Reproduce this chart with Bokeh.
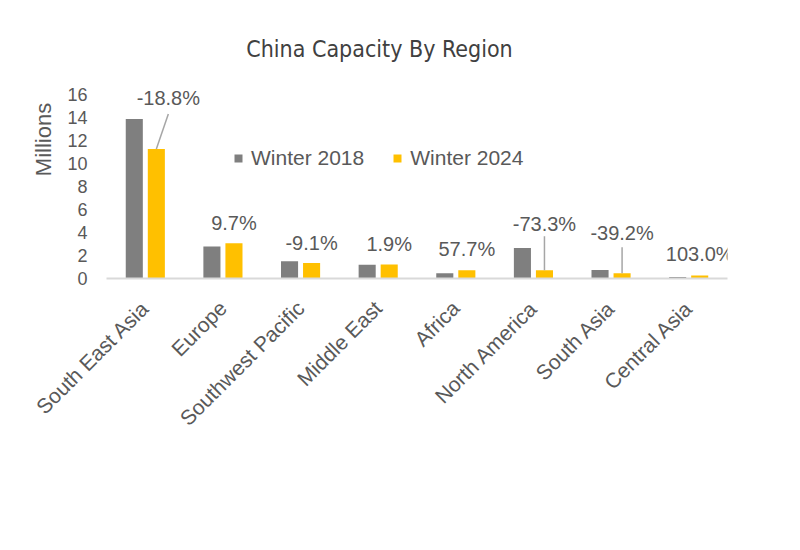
import math
from bokeh.plotting import figure
from bokeh.models import (ColumnDataSource, Range1d, FactorRange, FixedTicker, Legend,
                          LegendItem)
from bokeh.transform import dodge
from bokeh.core.properties import value
from bokeh.embed import file_html
from bokeh.resources import INLINE

# ---- data ----
regions = ["South East Asia", "Europe", "Southwest Pacific", "Middle East",
           "Africa", "North America", "South Asia", "Central Asia"]
winter_2018 = [13.9, 2.8, 1.5, 1.2, 0.46, 2.65, 0.75, 0.13]
winter_2024 = [11.3, 3.07, 1.36, 1.22, 0.72, 0.71, 0.46, 0.26]
change_labels = ["-18.8%", "9.7%", "-9.1%", "1.9%", "57.7%", "-73.3%", "-39.2%", "103.0%"]
y_ticks = [0, 2, 4, 6, 8, 10, 12, 14, 16]
title_text = "China Capacity By Region"

# ---- layout constants (pixels) ----
FW = 621
FH = 278                 # frame spans from the top of the canvas down to the zero line
BL, BR = 106, 57
ppu = 195 / 17           # pixels per million
Y_END = FH / ppu
label_lift = [51, 20, 20, 21, 21, 46, 40, 22]
label_dx = [12, 0, 0, 0, 0, 0, 0, 0]
leader_len = [35, 0, 0, 0, 0, 34, 26, 0]
OFF = 0.142
BW = 0.22
TITLE_X_PX, TITLE_Y_PX = 273, 48   # title centre: px from frame left / from frame top
LEGEND_LOC = (127, 108)            # px from frame bottom-left

GRAY = "#7f7f7f"
YEL = "#ffc000"
TXT = "#595959"
FONT = "Liberation Sans"

p = figure(frame_width=FW, frame_height=FH, x_range=FactorRange(*regions, range_padding=0),
           y_range=Range1d(0, Y_END), output_backend="svg", toolbar_location=None,
           min_border_left=BL, min_border_right=BR, min_border_top=0, min_border_bottom=0)
p.outline_line_color = None
p.background_fill_color = "white"
p.border_fill_color = "white"
p.xgrid.grid_line_color = None
p.ygrid.grid_line_color = None

src = ColumnDataSource(dict(cat=regions, a=winter_2018, b=winter_2024))
r1 = p.vbar(x=dodge("cat", -OFF, range=p.x_range), top="a", width=BW, source=src,
            fill_color=GRAY, line_color=None)
r2 = p.vbar(x=dodge("cat", OFF, range=p.x_range), top="b", width=BW, source=src,
            fill_color=YEL, line_color=None)

# data labels on the 2024 series
lab = ColumnDataSource(dict(
    x=[(c, OFF) for c in regions],
    y=[v + l / ppu for v, l in zip(winter_2024, label_lift)],
    t=change_labels,
    dx=label_dx,
))
p.text(x="x", y="y", text="t", x_offset="dx", source=lab, text_align="center",
       text_baseline="middle", text_font=value(FONT), text_font_size="20px", text_color=TXT)

# leader lines
idx = [i for i, L in enumerate(leader_len) if L > 0]
seg = ColumnDataSource(dict(
    x0=[(regions[i], OFF) for i in idx],
    y0=[winter_2024[i] for i in idx],
    x1=[(regions[i], OFF + label_dx[i] / (FW / len(regions))) for i in idx],
    y1=[winter_2024[i] + leader_len[i] / ppu for i in idx],
))
p.segment(x0="x0", y0="y0", x1="x1", y1="y1", source=seg, line_color="#a6a6a6", line_width=1.5)

# chart title, drawn inside the (tall) frame
p.text(x=[TITLE_X_PX / (FW / len(regions))], y=[Y_END - TITLE_Y_PX / ppu], text=[title_text],
       text_align="center", text_baseline="middle",
       text_font=value("Liberation Sans Narrow, DejaVu Sans Condensed, sans-serif"),
       text_font_size="23px", text_color="#404040")

# axes
p.yaxis.ticker = FixedTicker(ticks=y_ticks)
p.yaxis.axis_line_color = None
p.yaxis.major_tick_line_color = None
p.yaxis.major_tick_out = 0
p.yaxis.major_tick_in = 0
p.yaxis.minor_tick_line_color = None
p.yaxis.major_label_text_font = FONT
p.yaxis.major_label_text_font_size = "18px"
p.yaxis.major_label_text_color = TXT
p.yaxis.major_label_standoff = 19
p.yaxis.axis_label = "Millions"
p.yaxis.axis_label_text_font = FONT
p.yaxis.axis_label_text_font_size = "22px"
p.yaxis.axis_label_text_font_style = "normal"
p.yaxis.axis_label_text_color = TXT
p.yaxis.axis_label_standoff = 8

p.xaxis.axis_line_color = "#d9d9d9"
p.xaxis.axis_line_width = 2
p.xaxis.major_tick_line_color = None
p.xaxis.major_tick_out = 0
p.xaxis.major_tick_in = 0
p.xaxis.minor_tick_line_color = None
p.xaxis.major_label_orientation = math.pi / 4
p.xaxis.major_label_text_font = FONT
p.xaxis.major_label_text_font_size = "21px"
p.xaxis.major_label_text_color = TXT
p.xaxis.major_label_standoff = 26

legend = Legend(items=[LegendItem(label="Winter 2018", renderers=[r1]),
                       LegendItem(label="Winter 2024", renderers=[r2])],
                orientation="horizontal", location=LEGEND_LOC,
                label_text_font=FONT, label_text_font_size="21px", label_text_color=TXT,
                glyph_width=10, glyph_height=10, label_standoff=8, label_height=20,
                spacing=28, padding=0, margin=0, border_line_color=None,
                background_fill_alpha=0)
p.add_layout(legend, "center")

open("out.html", "w").write(file_html(p, INLINE))
